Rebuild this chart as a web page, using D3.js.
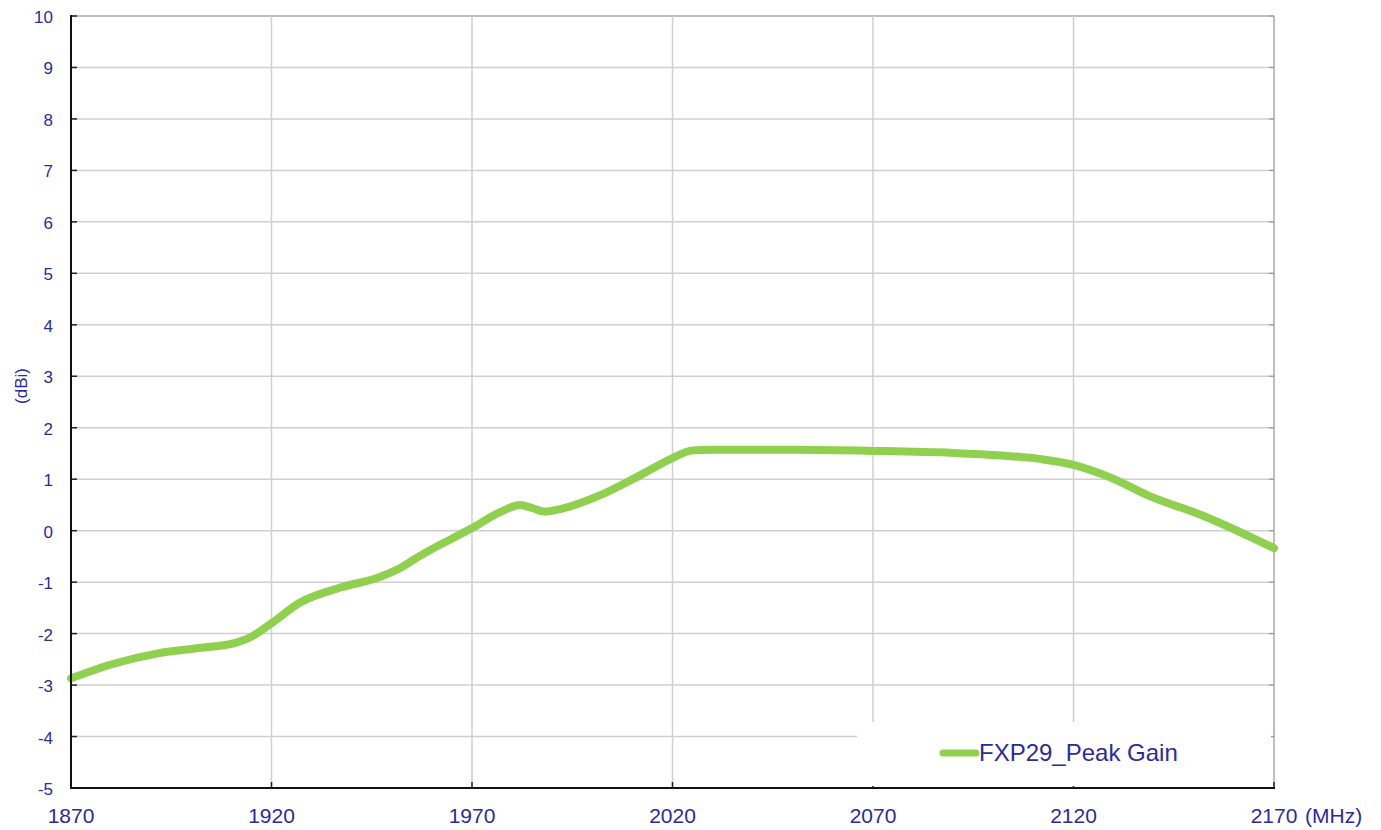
<!DOCTYPE html>
<html>
<head>
<meta charset="utf-8">
<script src="https://cdn.jsdelivr.net/npm/d3@7"></script>
<style>
  html, body { margin: 0; padding: 0; background: #fff; }
  svg { display: block; font-family: "Liberation Sans", Arial, sans-serif; }
</style>
</head>
<body>
<div id="chart"></div>
<script>
// values
const freqs = [1870, 1880, 1892, 1902, 1911, 1915, 1920, 1927, 1937, 1947, 1952, 1957, 1970, 1977, 1982, 1985, 1988, 1992, 2002, 2012, 2020, 2025, 2030, 2050, 2070, 2090, 2102, 2112, 2120, 2129, 2139, 2152, 2170];
const peakGain = [-2.87, -2.6, -2.38, -2.28, -2.18, -2.06, -1.8, -1.4, -1.11, -0.9, -0.73, -0.49, 0.05, 0.36, 0.5, 0.44, 0.37, 0.42, 0.69, 1.08, 1.41, 1.56, 1.57, 1.57, 1.55, 1.51, 1.46, 1.39, 1.28, 1.04, 0.67, 0.3, -0.34];
const xTicks = [1870, 1920, 1970, 2020, 2070, 2120, 2170];
const yTicks = [-5, -4, -3, -2, -1, 0, 1, 2, 3, 4, 5, 6, 7, 8, 9, 10];
const seriesName = "FXP29_Peak Gain";

const W = 1381, H = 830;
const pLeft = 71, pRight = 1274, pTop = 16, pBottom = 788;
const labelColor = "#2b2b9c";
const lineColor = "#8fd14f";

const svg = d3.select("#chart").append("svg")
  .attr("width", W).attr("height", H);

const x = d3.scaleLinear().domain([1870, 2170]).range([pLeft, pRight]);
const y = d3.scaleLinear().domain([-5, 10]).range([pBottom, pTop]);

// grid
svg.append("g").selectAll("line").data(yTicks.filter(d => d > -5)).enter().append("line")
  .attr("x1", pLeft).attr("x2", pRight)
  .attr("y1", d => y(d)).attr("y2", d => y(d))
  .attr("stroke", d => d === 10 ? "#a8a8a8" : "#cfcfcf").attr("stroke-width", 1.5);
svg.append("g").selectAll("line").data(xTicks.filter(d => d > 1870)).enter().append("line")
  .attr("y1", pTop).attr("y2", pBottom)
  .attr("x1", d => x(d)).attr("x2", d => x(d))
  .attr("stroke", d => d === 2170 ? "#a8a8a8" : "#cfcfcf").attr("stroke-width", 1.5);

// small ticks inside frame
svg.append("g").selectAll("line").data(yTicks).enter().append("line")
  .attr("x1", pLeft).attr("x2", pLeft + 6)
  .attr("y1", d => y(d)).attr("y2", d => y(d))
  .attr("stroke", "#222").attr("stroke-width", 1.5);
svg.append("g").selectAll("line").data(yTicks).enter().append("line")
  .attr("x1", pRight - 5).attr("x2", pRight)
  .attr("y1", d => y(d)).attr("y2", d => y(d))
  .attr("stroke", "#999").attr("stroke-width", 1.2);
svg.append("g").selectAll("line").data(xTicks).enter().append("line")
  .attr("y1", pBottom).attr("y2", pBottom - 6)
  .attr("x1", d => x(d)).attr("x2", d => x(d))
  .attr("stroke", "#222").attr("stroke-width", 1.5);

// data line
const line = d3.line()
  .x((d, i) => x(freqs[i]))
  .y(d => y(d))
  .curve(d3.curveMonotoneX);
svg.append("path").datum(peakGain)
  .attr("d", line)
  .attr("fill", "none")
  .attr("stroke", lineColor)
  .attr("stroke-width", 8)
  .attr("stroke-linecap", "round")
  .attr("stroke-linejoin", "round");

// legend box
svg.append("rect")
  .attr("x", 857).attr("y", 722).attr("width", 414).attr("height", 64)
  .attr("fill", "#fff");
svg.append("line")
  .attr("x1", 943).attr("x2", 976).attr("y1", 753).attr("y2", 753)
  .attr("stroke", lineColor).attr("stroke-width", 7).attr("stroke-linecap", "round");
svg.append("text")
  .attr("x", 979).attr("y", 761)
  .attr("fill", labelColor).attr("font-size", 24)
  .text(seriesName);

// frame axes
svg.append("line").attr("x1", pLeft).attr("x2", pLeft).attr("y1", pTop - 1).attr("y2", pBottom + 1)
  .attr("stroke", "#111").attr("stroke-width", 2);
svg.append("line").attr("x1", pLeft).attr("x2", pRight + 1).attr("y1", pBottom).attr("y2", pBottom)
  .attr("stroke", "#111").attr("stroke-width", 2);

// tick labels
svg.append("g").selectAll("text").data(yTicks).enter().append("text")
  .attr("x", 53).attr("y", d => y(d) + 7)
  .attr("text-anchor", "end")
  .attr("fill", labelColor).attr("font-size", 17)
  .text(d => d);
svg.append("g").selectAll("text").data(xTicks).enter().append("text")
  .attr("x", d => x(d)).attr("y", 823)
  .attr("text-anchor", "middle")
  .attr("fill", labelColor).attr("font-size", 21)
  .text(d => d);

svg.append("text")
  .attr("x", 1305).attr("y", 823)
  .attr("fill", labelColor).attr("font-size", 21)
  .text("(MHz)");
svg.append("text")
  .attr("transform", "translate(27,386) rotate(-90)")
  .attr("text-anchor", "middle")
  .attr("fill", labelColor).attr("font-size", 17)
  .text("(dBi)");
</script>
</body>
</html>
